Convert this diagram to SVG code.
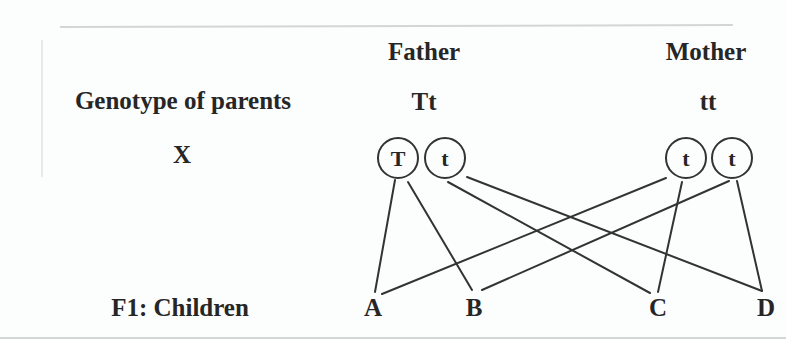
<svg xmlns="http://www.w3.org/2000/svg" width="786" height="340" viewBox="0 0 786 340">
<style>
text{font-family:"Liberation Serif","Times New Roman",serif;font-weight:bold;font-size:25px;fill:#262626;text-anchor:middle}
.al{font-size:22px}
.allele circle{fill:none;stroke:#333;stroke-width:2}
#connectors line{stroke:#333;stroke-width:2;stroke-linecap:round}
.frame{stroke:#d4d6d6;stroke-width:2}
</style>
<rect width="786" height="340" fill="#fcfdfd"/>
<line class="frame" x1="60" y1="27" x2="733" y2="25"/>
<line class="frame" x1="42" y1="40" x2="42" y2="177" stroke-opacity="0.5"/>
<line class="frame" x1="0" y1="338" x2="786" y2="338"/>

<g id="label-father"><text x="424" y="60">Father</text></g>
<g id="label-mother"><text x="706" y="60">Mother</text></g>
<g id="label-genotype"><text x="183" y="109">Genotype of parents</text></g>
<g id="genotype-father"><text x="424" y="110">Tt</text></g>
<g id="genotype-mother"><text x="708" y="110">tt</text></g>
<g id="label-x"><text x="182" y="163">X</text></g>
<g id="label-f1"><text x="180" y="316">F1: Children</text></g>

<g id="father-T" class="allele"><circle cx="398" cy="158" r="20"/><text class="al" x="398" y="166">T</text></g>
<g id="father-t" class="allele"><circle cx="445" cy="158" r="20"/><text class="al" x="445" y="166">t</text></g>
<g id="mother-t1" class="allele"><circle cx="686" cy="158" r="20"/><text class="al" x="686" y="166">t</text></g>
<g id="mother-t2" class="allele"><circle cx="732" cy="158" r="20"/><text class="al" x="732" y="166">t</text></g>

<g id="child-A"><text x="373" y="316">A</text></g>
<g id="child-B"><text x="474" y="316">B</text></g>
<g id="child-C"><text x="658" y="316">C</text></g>
<g id="child-D"><text x="766" y="316">D</text></g>

<g id="connectors">
<line x1="395" y1="180" x2="375" y2="292"/>
<line x1="408" y1="182" x2="472" y2="290"/>
<line x1="448" y1="182" x2="650" y2="293"/>
<line x1="467" y1="177" x2="762" y2="291"/>
<line x1="666" y1="178" x2="382" y2="294"/>
<line x1="682" y1="182" x2="658" y2="292"/>
<line x1="729" y1="181" x2="482" y2="290"/>
<line x1="737" y1="181" x2="762" y2="291"/>
</g>
</svg>
